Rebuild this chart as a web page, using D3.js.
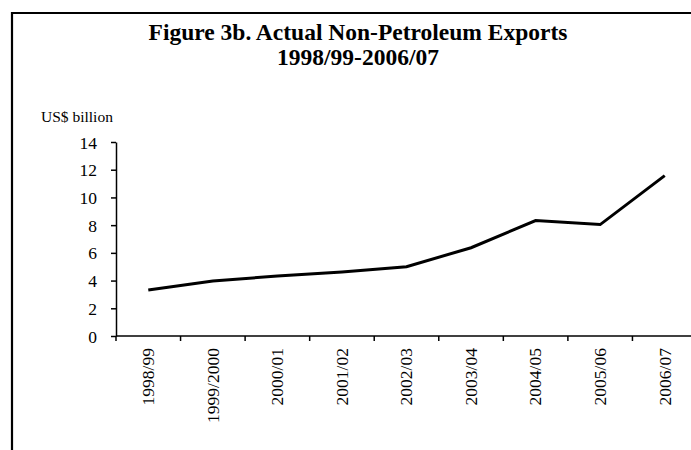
<!DOCTYPE html>
<meta charset="utf-8">
<title>Figure 3b</title>
<style>
html, body { margin: 0; padding: 0; background: #fff; overflow: hidden; }
svg { display: block; }
text { font-family: "Liberation Serif", "Times New Roman", serif; fill: #000; }
.title { font-size: 23.5px; font-weight: bold; text-anchor: middle; }
.axis path, .axis line { stroke: #000; stroke-width: 1.5px; }
.axis text { font-size: 17.5px; }
</style>
<svg width="691" height="450"></svg>
<script src="https://d3js.org/d3.v7.min.js"></script>
<script>

// years on the x axis
var years = ["1998/99", "1999/2000", "2000/01", "2001/02", "2002/03",
             "2003/04", "2004/05", "2005/06", "2006/07"];
// exports, US$ billion
var exportsBn = [3.32, 3.97, 4.33, 4.62, 5.0, 6.37, 8.33, 8.04, 11.57];
var yTicks = [0, 2, 4, 6, 8, 10, 12, 14];

var svg = d3.select("svg");

// outer frame, only left and top edges are in view
svg.append("path")
    .attr("d", "M12,460V13H700")
    .attr("fill", "none")
    .attr("stroke", "#000")
    .attr("stroke-width", 2.2);

svg.append("text").attr("class", "title")
    .attr("x", 358).attr("y", 40)
    .text("Figure 3b. Actual Non-Petroleum Exports");
svg.append("text").attr("class", "title")
    .attr("x", 358).attr("y", 65)
    .text("1998/99-2006/07");

svg.append("text")
    .attr("x", 41).attr("y", 122)
    .style("font-size", "15.5px")
    .text("US$ billion");

var x = d3.scaleBand().domain(years).range([116, 697]);
var y = d3.scaleLinear().domain([0, 14]).range([336, 142]);

// y axis
var ya = svg.append("g").attr("class", "axis")
    .attr("transform", "translate(116,0)")
    .call(d3.axisLeft(y).tickValues(yTicks).tickSize(5).tickSizeOuter(0).tickPadding(14));
ya.selectAll("text").attr("dy", "0.35em");

// x axis, ticks at category boundaries
var xa = svg.append("g").attr("class", "axis")
    .attr("transform", "translate(0,336)");
xa.append("line")
    .attr("x1", 116).attr("x2", 697)
    .attr("y1", 0).attr("y2", 0);
xa.selectAll(".tk")
  .data(years)
  .enter().append("line")
    .attr("class", "tk")
    .attr("x1", function(d) { return x(d); })
    .attr("x2", function(d) { return x(d); })
    .attr("y1", 0).attr("y2", 5);
xa.selectAll(".lbl")
  .data(years)
  .enter().append("text")
    .attr("class", "lbl")
    .attr("text-anchor", "end")
    .attr("dy", "0.33em")
    .attr("transform", function(d) {
      return "translate(" + (x(d) + x.bandwidth() / 2) + ",12) rotate(-90)";
    })
    .text(function(d) { return d; });

// the series line
var line = d3.line()
    .x(function(d, i) { return x(years[i]) + x.bandwidth() / 2; })
    .y(function(d) { return y(d); });

svg.append("path")
    .datum(exportsBn)
    .attr("fill", "none")
    .attr("stroke", "#000")
    .attr("stroke-width", 3)
    .attr("d", line);

</script>
